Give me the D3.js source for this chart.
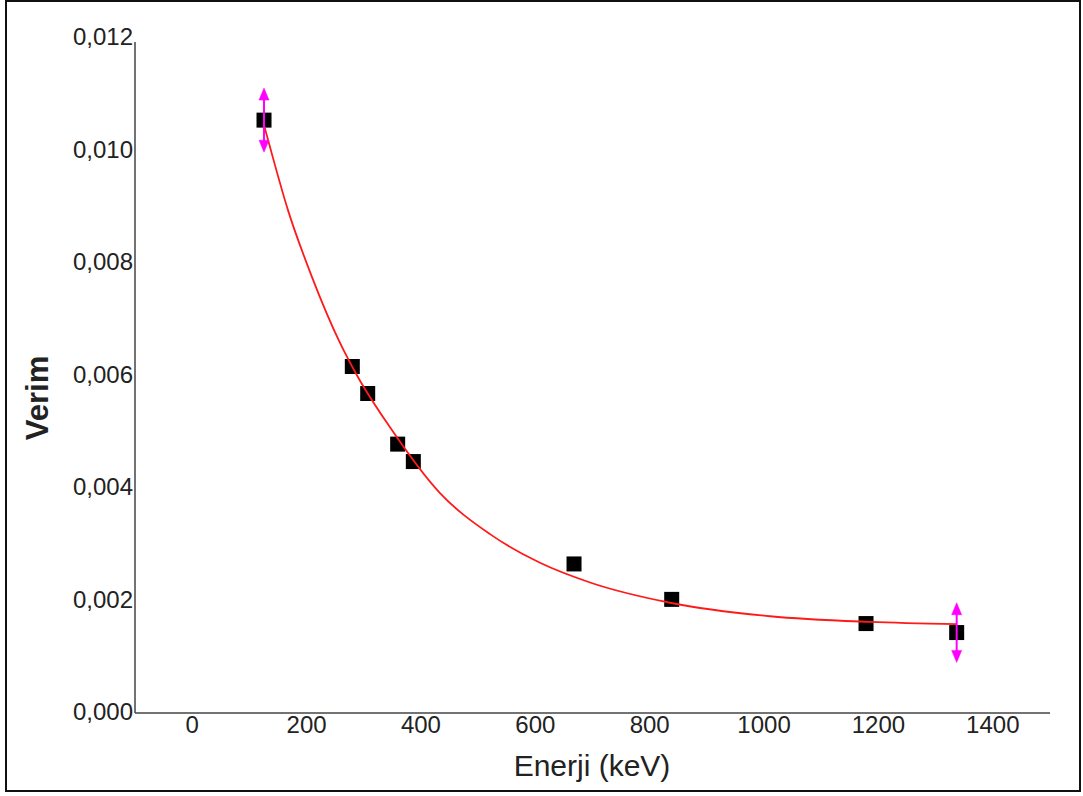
<!DOCTYPE html>
<html>
<head>
<meta charset="utf-8">
<script src="https://cdn.jsdelivr.net/npm/d3@7"></script>
<style>
  html, body { margin: 0; padding: 0; background: #fff; }
  svg { display: block; }
</style>
</head>
<body>
<div id="chart"></div>
<script>
var energy = [125.6, 280.0, 306.9, 359.3, 386.7, 667.7, 838.5, 1178.3, 1336.8];
var verim  = [0.01054, 0.00616, 0.00568, 0.00478, 0.00447, 0.00265, 0.00202, 0.00159, 0.00143];
var verimErr = [0.00057, 0, 0, 0, 0, 0, 0, 0, 0.00053];

// fitted curve, sampled by eye along the red line
var fitEnergy = [125.6, 132.6, 167.5, 209.5, 258.5, 290.0, 345.9, 433.3, 520.8, 608.2, 695.6, 835.5, 1010.4, 1185.2, 1337.4];
var fitVerim  = [0.01045, 0.01019, 0.00894, 0.00775, 0.00658, 0.00597, 0.00508, 0.00391, 0.00318, 0.00267, 0.00232, 0.00196, 0.00172, 0.00162, 0.00158];

var xTicks = [0, 200, 400, 600, 800, 1000, 1200, 1400];
var yTicks = [0, 0.002, 0.004, 0.006, 0.008, 0.010, 0.012];

(function () {
  var W = 1083, H = 796;
  var svg = d3.select("#chart").append("svg").attr("width", W).attr("height", H);
  var font = "'Liberation Sans', Arial, sans-serif";
  var ink = "#222";

  // outer frame
  svg.append("rect").attr("x", 6).attr("y", 1).attr("width", 1074).attr("height", 790)
    .attr("fill", "none").attr("stroke", "#111").attr("stroke-width", 2);

  var x = d3.scaleLinear().domain([-100, 1500]).range([135, 1050]);
  var y = d3.scaleLinear().domain([0, 0.012]).range([713, 38]);

  // axis lines (no tick marks in the original)
  svg.append("line").attr("x1", x(-100)).attr("x2", x(-100)).attr("y1", y(0.012) + 4).attr("y2", y(0))
    .attr("stroke", "#444").attr("stroke-width", 1.5);
  svg.append("line").attr("x1", x(-100)).attr("x2", x(1500)).attr("y1", y(0)).attr("y2", y(0))
    .attr("stroke", "#444").attr("stroke-width", 1.5);

  svg.append("g").selectAll("text").data(yTicks).enter().append("text")
    .attr("x", 133).attr("y", function (d) { return y(d) - 1.5; })
    .attr("text-anchor", "end").attr("dominant-baseline", "central")
    .attr("font-family", font).attr("font-size", 24).attr("fill", ink)
    .text(function (d) { return d3.format(".3f")(d).replace(".", ","); });

  svg.append("g").selectAll("text").data(xTicks).enter().append("text")
    .attr("x", function (d) { return x(d); }).attr("y", 733)
    .attr("text-anchor", "middle")
    .attr("font-family", font).attr("font-size", 24).attr("fill", ink)
    .text(function (d) { return d; });

  // axis titles
  svg.append("text").attr("x", 592).attr("y", 776).attr("text-anchor", "middle")
    .attr("font-family", font).attr("font-size", 30).attr("fill", ink).text("Enerji (keV)");
  svg.append("text").attr("transform", "translate(48,398) rotate(-90)").attr("text-anchor", "middle")
    .attr("font-family", font).attr("font-size", 31).attr("font-weight", "bold").attr("fill", ink).text("Verim");

  var pts = energy.map(function (e, i) { return { e: e, v: verim[i], err: verimErr[i] }; });

  // square markers
  var s = 15;
  svg.append("g").selectAll("rect").data(pts).enter().append("rect")
    .attr("x", function (d) { return x(d.e) - s / 2; })
    .attr("y", function (d) { return y(d.v) - s / 2; })
    .attr("width", s).attr("height", s).attr("fill", "#000");

  // fit curve
  var fit = fitEnergy.map(function (e, i) { return [e, fitVerim[i]]; });
  svg.append("path").datum(fit)
    .attr("d", d3.line().x(function (d) { return x(d[0]); }).y(function (d) { return y(d[1]); }).curve(d3.curveMonotoneX))
    .attr("fill", "none").attr("stroke", "#ff1a1a").attr("stroke-width", 1.8);

  // error bars with arrow heads
  var eb = svg.append("g").selectAll("g").data(pts.filter(function (d) { return d.err > 0; })).enter().append("g")
    .attr("fill", "#ff00ff").attr("stroke", "#ff00ff");
  eb.append("line")
    .attr("x1", function (d) { return x(d.e); }).attr("x2", function (d) { return x(d.e); })
    .attr("y1", function (d) { return y(d.v + d.err) + 4; }).attr("y2", function (d) { return y(d.v - d.err) - 4; })
    .attr("stroke-width", 2);
  eb.append("path").attr("stroke-width", 0.5).attr("d", function (d) {
    var cx = x(d.e), t = y(d.v + d.err), b = y(d.v - d.err);
    return "M" + cx + "," + t + "L" + (cx + 5) + "," + (t + 12) + "L" + (cx - 5) + "," + (t + 12) + "Z" +
      "M" + cx + "," + b + "L" + (cx + 5) + "," + (b - 12) + "L" + (cx - 5) + "," + (b - 12) + "Z";
  });
})();
</script>
</body>
</html>
